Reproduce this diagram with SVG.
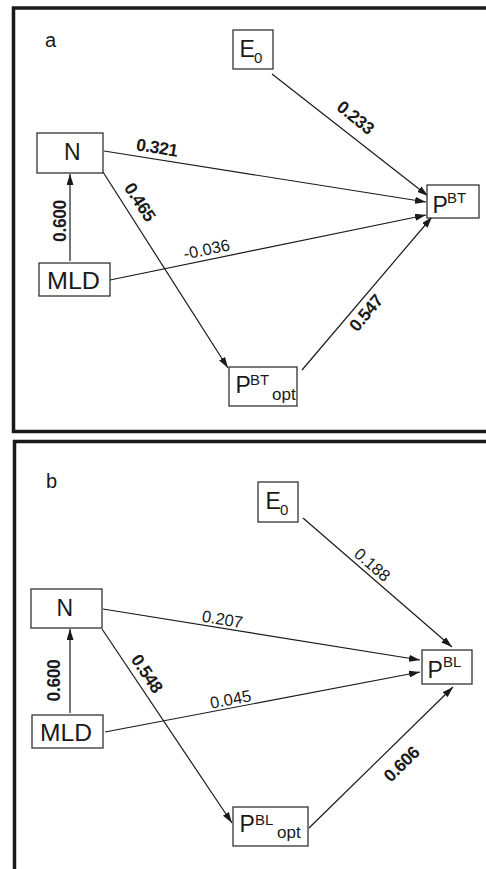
<svg xmlns="http://www.w3.org/2000/svg" width="486" height="869" viewBox="0 0 486 869">
<defs>
<marker id="ah" viewBox="0 0 11 7" refX="11" refY="3.5" markerWidth="11" markerHeight="7" markerUnits="userSpaceOnUse" orient="auto">
<path d="M0,0 L11,3.5 L0,7 z" fill="#1a1a1a"/>
</marker>
<style>
.frame{fill:none;stroke:#1a1a1a;stroke-width:3.5}
.box{fill:#fff;stroke:#333;stroke-width:1.3}
.nt{font-family:"Liberation Sans",Arial,sans-serif;font-size:23px;fill:#1a1a1a}
.sup{font-size:15px}
.sub{font-size:15px}
.opt{font-size:17px}
.lbl{font-family:"Liberation Sans",Arial,sans-serif;font-size:16.5px;fill:#1a1a1a;text-anchor:middle}
.b{font-weight:bold;font-size:17.5px;letter-spacing:-0.4px}
.pl{font-family:"Liberation Sans",Arial,sans-serif;font-size:20px;fill:#1a1a1a}
.edge{stroke:#1a1a1a;stroke-width:1.2;fill:none;marker-end:url(#ah)}
</style>
</defs>
<rect width="486" height="869" fill="#fff"/>
<g id="frames">
<path class="frame" d="M500,8 L13.5,8 L13.5,431.5 L500,431.5"/>
<path class="frame" d="M500,441.5 L14.5,441.5 L14.5,880"/>
</g>
<text class="pl" x="45" y="47">a</text>
<text class="pl" x="46" y="488">b</text>
<g id="connectors">
<line class="edge" x1="272" y1="74" x2="428" y2="196"/>
<line class="edge" x1="104" y1="151" x2="426" y2="202"/>
<line class="edge" x1="110" y1="280" x2="426" y2="215"/>
<line class="edge" x1="302" y1="370" x2="432" y2="217"/>
<line class="edge" x1="103" y1="172" x2="228" y2="368"/>
<line class="edge" x1="70" y1="261" x2="70" y2="174"/>
<line class="edge" x1="303" y1="518" x2="452" y2="647"/>
<line class="edge" x1="103" y1="609" x2="420" y2="660"/>
<line class="edge" x1="105" y1="732" x2="420" y2="672"/>
<line class="edge" x1="309" y1="828" x2="453" y2="687"/>
<line class="edge" x1="102" y1="629" x2="232" y2="823"/>
<line class="edge" x1="70" y1="713" x2="70" y2="629"/>
</g>
<g id="labels">
<text class="lbl b" transform="translate(355.5,117.5) rotate(39)" y="6">0.233</text>
<text class="lbl b" transform="translate(157,147.5) rotate(9)" y="6">0.321</text>
<text class="lbl b" transform="translate(140,202) rotate(57)" y="6">0.465</text>
<text class="lbl b" transform="translate(60,221) rotate(-90)" y="6">0.600</text>
<text class="lbl" transform="translate(206.5,249) rotate(-11.6)" y="6">-0.036</text>
<text class="lbl b" transform="translate(366,313) rotate(-50)" y="6">0.547</text>
<text class="lbl" transform="translate(372.5,564.5) rotate(41)" y="6">0.188</text>
<text class="lbl" transform="translate(222.5,619) rotate(9.2)" y="6">0.207</text>
<text class="lbl b" transform="translate(147,673.5) rotate(56)" y="6">0.548</text>
<text class="lbl b" transform="translate(53.5,680.5) rotate(-90)" y="6">0.600</text>
<text class="lbl" transform="translate(230.5,699) rotate(-10.8)" y="6">0.045</text>
<text class="lbl b" transform="translate(401.5,764) rotate(-44.4)" y="6">0.606</text>
</g>
<g id="a-E0">
<rect class="box" x="233" y="30" width="40" height="39"/>
<text class="nt" x="239.5" y="56.5" font-size="21">E<tspan class="sub" x="254" y="63">0</tspan></text>
</g>
<g id="a-N">
<rect class="box" x="37" y="133" width="66" height="40"/>
<text class="nt" x="64" y="160">N</text>
</g>
<g id="a-MLD">
<rect class="box" x="39" y="263" width="71" height="33"/>
<text class="nt" x="47" y="288.5" textLength="53" lengthAdjust="spacingAndGlyphs">MLD</text>
</g>
<g id="a-PBT">
<rect class="box" x="427" y="185" width="52" height="33"/>
<text class="nt" x="432.5" y="212.5">P<tspan class="sup" x="447" y="203">BT</tspan></text>
</g>
<g id="a-PBTopt">
<rect class="box" x="229" y="367" width="68" height="39"/>
<text class="nt" x="235.5" y="392.5">P<tspan class="sup" x="250" y="385">BT</tspan><tspan class="opt" x="272" y="400">opt</tspan></text>
</g>
<g id="b-E0">
<rect class="box" x="258" y="482" width="40" height="40"/>
<text class="nt" x="265.5" y="508.5" font-size="21">E<tspan class="sub" x="280" y="515">0</tspan></text>
</g>
<g id="b-N">
<rect class="box" x="31" y="589" width="71" height="39"/>
<text class="nt" x="56.5" y="616">N</text>
</g>
<g id="b-MLD">
<rect class="box" x="32" y="715" width="71" height="33"/>
<text class="nt" x="40" y="740.5" textLength="52" lengthAdjust="spacingAndGlyphs">MLD</text>
</g>
<g id="b-PBL">
<rect class="box" x="422" y="650" width="50" height="34"/>
<text class="nt" x="427.5" y="677.5">P<tspan class="sup" x="443" y="667">BL</tspan></text>
</g>
<g id="b-PBLopt">
<rect class="box" x="233" y="807" width="75" height="39"/>
<text class="nt" x="239.5" y="831.5">P<tspan class="sup" x="255" y="825">BL</tspan><tspan class="opt" x="277" y="838">opt</tspan></text>
</g>
</svg>
